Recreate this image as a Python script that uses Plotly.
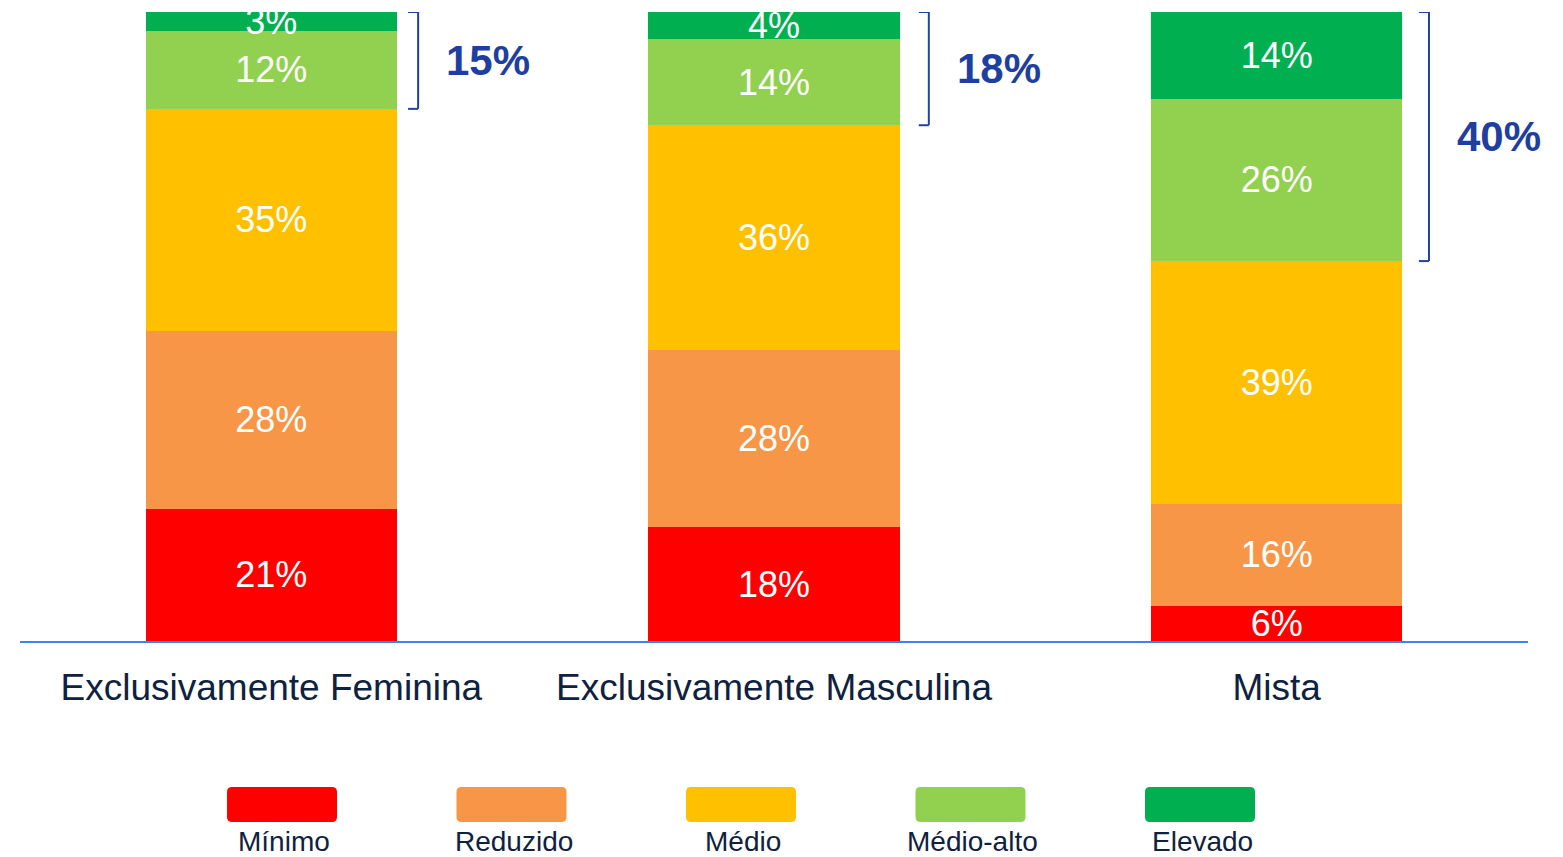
import plotly.graph_objects as go

# ---- data ----
categories = ["Exclusivamente Feminina", "Exclusivamente Masculina", "Mista"]
levels = ["Mínimo", "Reduzido", "Médio", "Médio-alto", "Elevado"]
minimo = [21.0, 18.1, 5.6]
reduzido = [28.3, 28.1, 16.2]
medio = [35.3, 35.8, 38.6]
medio_alto = [12.4, 13.7, 25.8]
elevado = [3.0, 4.3, 13.8]

series = [minimo, reduzido, medio, medio_alto, elevado]
colors = ["#FF0000", "#F79646", "#FFC000", "#92D050", "#00B050"]

FONT = "Liberation Sans, Arial, sans-serif"
TXT = "#0F2140"
BLUE = "#2341A5"

W, H = 1563, 857
ML, MR, MT, MB = 20, 35, 12, 216
PW = W - ML - MR
PH = H - MT - MB

# layout offsets of brackets relative to each bar centre (category units)
BRACKET_X = [0.292, 0.308, 0.303]

fig = go.Figure()
for name, vals, col in zip(levels, series, colors):
    fig.add_trace(go.Bar(
        x=categories, y=vals, name=name,
        marker=dict(color=col, line=dict(width=0)),
        texttemplate="%{y:.0f}%", textposition="inside", insidetextanchor="middle",
        textfont=dict(color="white", size=36, family=FONT),
        showlegend=False, hoverinfo="skip",
    ))

shapes = []
annotations = []
# brackets for top two levels
for i, cat in enumerate(categories):
    bottom = minimo[i] + reduzido[i] + medio[i]
    top = min(bottom + medio_alto[i] + elevado[i], 100)
    xv = i + BRACKET_X[i]
    xt = xv - 0.02
    line = dict(color=BLUE, width=2)
    shapes.append(dict(type="line", xref="x", yref="y", x0=xv, x1=xv, y0=bottom, y1=top, line=line))
    shapes.append(dict(type="line", xref="x", yref="y", x0=xt, x1=xv, y0=top, y1=top, line=line))
    shapes.append(dict(type="line", xref="x", yref="y", x0=xt, x1=xv, y0=bottom, y1=bottom, line=line))
    total = medio_alto[i] + elevado[i]
    annotations.append(dict(
        x=xv + 0.14, y=(bottom + top) / 2, xref="x", yref="y",
        text=f"<b>{total:.0f}%</b>", showarrow=False,
        font=dict(size=42, color="#1F3FA0", family=FONT),
        xanchor="center", yanchor="middle",
    ))

# custom legend (rounded swatches + labels below)
def px_to_paper(px, py):
    return (px - ML) / PW, (MT + PH - py) / PH

def rounded_rect(x0p, y0p, x1p, y1p, r):
    def P(x, y):
        a, b = px_to_paper(x, y)
        return f"{a:.6f},{b:.6f}"
    return (f"M {P(x0p + r, y0p)} L {P(x1p - r, y0p)} Q {P(x1p, y0p)} {P(x1p, y0p + r)} "
            f"L {P(x1p, y1p - r)} Q {P(x1p, y1p)} {P(x1p - r, y1p)} "
            f"L {P(x0p + r, y1p)} Q {P(x0p, y1p)} {P(x0p, y1p - r)} "
            f"L {P(x0p, y0p + r)} Q {P(x0p, y0p)} {P(x0p + r, y0p)} Z")

cx0, step = 282, 229.5
for j, (name, col) in enumerate(zip(levels, colors)):
    cx = cx0 + step * j
    shapes.append(dict(type="path", xref="paper", yref="paper",
                       path=rounded_rect(cx - 55, 787, cx + 55, 822, 5),
                       fillcolor=col, line=dict(width=0)))
    lx, ly = px_to_paper(cx + 2, 842)
    annotations.append(dict(x=lx, y=ly, xref="paper", yref="paper", text=name,
                            showarrow=False, xanchor="center", yanchor="middle",
                            borderpad=0,
                            font=dict(size=28, color=TXT, family=FONT)))

fig.update_layout(
    width=W, height=H,
    margin=dict(l=ML, r=MR, t=MT, b=MB, pad=0),
    barmode="stack", bargap=0.5,
    plot_bgcolor="white", paper_bgcolor="white",
    uniformtext=dict(mode="show", minsize=36),
    shapes=shapes, annotations=annotations,
    xaxis=dict(type="category", range=[-0.5, 2.5], showline=True, linecolor="#3C82F0",
               linewidth=2, ticks="", showgrid=False, zeroline=False,
               ticklabelstandoff=13,
               tickfont=dict(size=37, color=TXT, family=FONT)),
    yaxis=dict(range=[0, 100], visible=False, showgrid=False, zeroline=False),
    font=dict(family=FONT),
)

fig.write_html("out.html", config={"displayModeBar": False},
               post_script="document.body.style.margin='0';document.body.style.padding='0';document.body.style.overflow='hidden';")
